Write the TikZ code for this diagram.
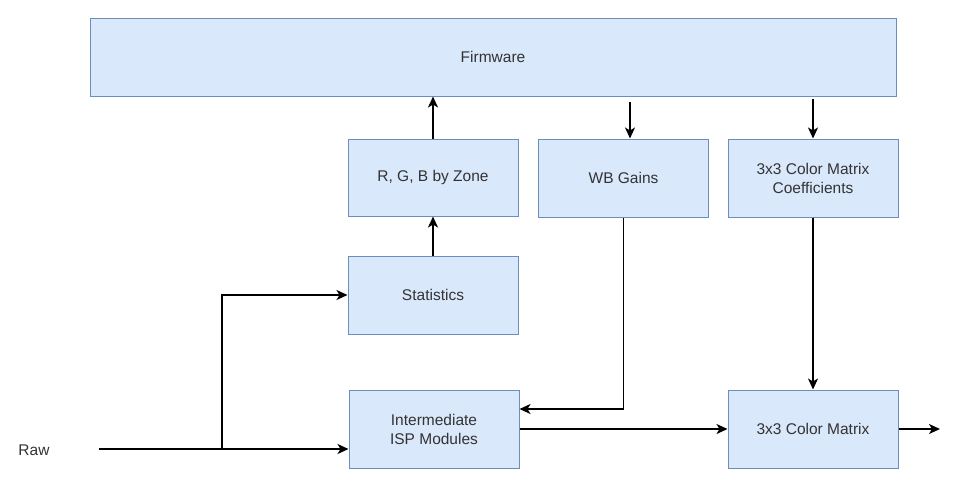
\documentclass[tikz,border=0pt]{standalone}
\usepackage{fontspec}
\setmainfont{Liberation Sans}
\usetikzlibrary{arrows.meta,calc}
\definecolor{boxfill}{HTML}{DAE8FC}
\definecolor{boxline}{HTML}{6C8EBF}
\definecolor{txt}{HTML}{333333}
\begin{document}
\begin{tikzpicture}[x=1pt,y=-1pt,
  blk/.style={draw=boxline, fill=boxfill, line width=1pt, minimum width=170pt, minimum height=78pt, inner sep=0pt, align=center, text=txt, font=\fontsize{15.5}{19}\selectfont},
  arr/.style={line width=1.6pt, -{Stealth[length=11pt,width=10pt,inset=3pt]}},
  wire/.style={line width=1.6pt}]
\useasboundingbox (0,0) rectangle (958,483);
\node[blk, minimum width=806pt] (fw) at (493,57) {Firmware};
\node[blk, minimum height=77pt] (rgb) at (433,177.5) {R, G, B by Zone};
\node[blk] (wb) at (623.5,178) {WB Gains};
\node[blk] (coef) at (813,178) {3x3 Color Matrix\\Coefficients};
\node[blk] (stats) at (433,295) {Statistics};
\node[blk] (isp) at (434,429) {Intermediate\\ISP Modules};
\node[blk] (cm) at (813,429) {3x3 Color Matrix};
\node[text=txt, font=\fontsize{15.5}{19}\selectfont] (raw) at (34,450) {Raw};
\coordinate (rawin) at (99,449);
\coordinate (split) at (222,449);
\coordinate (wbtop) at ($(wb.north)+(6.5,0)$);
\coordinate (out) at (940,429);
% input feed
\draw[wire] (rawin) -- (split);
\draw[arr] (split) -- (split -| isp.west);
\draw[arr] (split) |- (stats.west);
% statistics path
\draw[arr] (stats.north) -- (rgb.south);
\draw[arr] (rgb.north) -- (rgb.north |- fw.south);
% firmware outputs
\draw[arr] ($(wbtop |- fw.south)+(0,5)$) -- (wbtop);
\draw[arr] ($(coef.north |- fw.south)+(0,2)$) -- (coef.north);
\draw[arr] (wb.south) |- ($(isp.east)+(0,-20)$);
\draw[arr] (coef.south) -- (cm.north);
% main pipe
\draw[arr] (isp.east) -- (cm.west);
\draw[arr] (cm.east) -- (out);
\end{tikzpicture}
\end{document}
